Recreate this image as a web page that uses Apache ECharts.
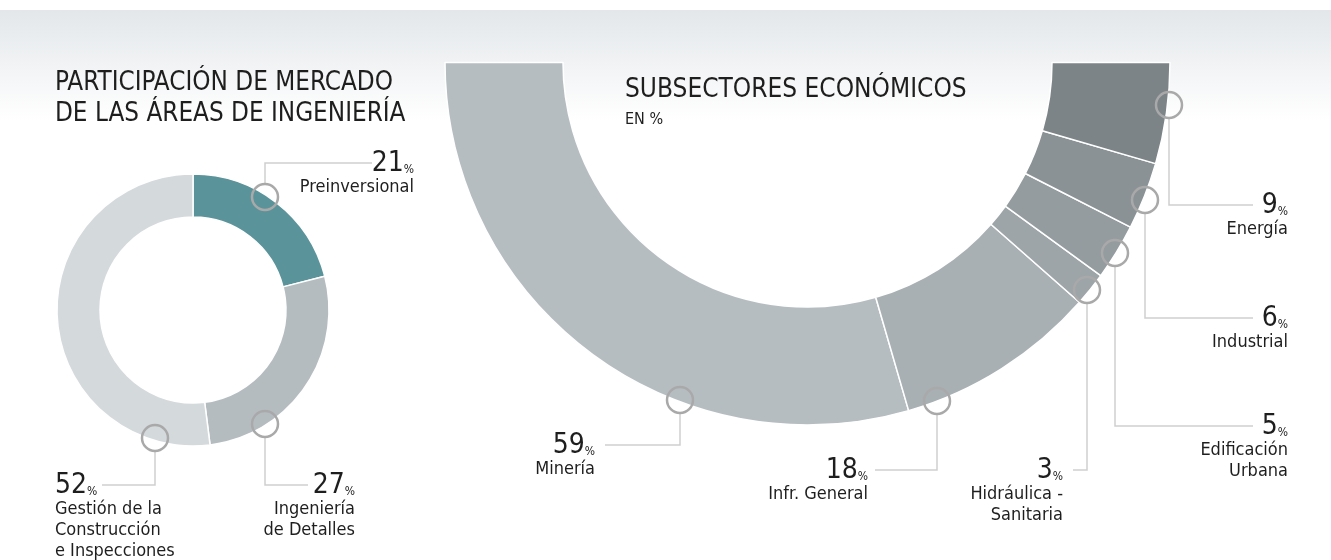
<!DOCTYPE html>
<html><head><meta charset="utf-8">
<script src="https://cdn.jsdelivr.net/npm/echarts@6/dist/echarts.min.js"></script>
<style>html,body{margin:0;padding:0;background:#fff}#c{width:1331px;height:560px}</style>
</head><body><div id="c"></div>
<script>
// ---- data ----
const areaNames = ['Preinversional', 'Ingeniería de Detalles', 'Gestión de la Construcción e Inspecciones'];
const areaValues = [21, 27, 52];
const areaLabelLines = [['Preinversional'], ['Ingeniería', 'de Detalles'], ['Gestión de la', 'Construcción', 'e Inspecciones']];
const sectorNames = ['Minería', 'Infr. General', 'Hidráulica - Sanitaria', 'Edificación Urbana', 'Industrial', 'Energía'];
const sectorValues = [59, 18, 3, 5, 6, 9];
const sectorLabelLines = [['Minería'], ['Infr. General'], ['Hidráulica -', 'Sanitaria'], ['Edificación', 'Urbana'], ['Industrial'], ['Energía']];
const title1 = ['PARTICIPACIÓN DE MERCADO', 'DE LAS ÁREAS DE INGENIERÍA'];
const title2 = 'SUBSECTORES ECONÓMICOS';
const subtitle2 = 'EN %';

// ---- styles ----
const FONT = '"Liberation Sans Narrow", "DejaVu Sans Condensed", sans-serif';
const areaColors = ['#5b939b', '#b5bcc0', '#d4d9dc'];
const sectorColors = ['#b6bdc1', '#a8b0b3', '#9da5a8', '#949c9f', '#8a9295', '#7c8487'];
const TXT = '#1e1e1e';

// callout layout: circle (cx,cy), elbow y, line end x, text x, align
const areaCallouts = [
  {cx: 265, cy: 197, ey: 163, ex: 372, tx: 414, align: 'right'},
  {cx: 265, cy: 424, ey: 485, ex: 308, tx: 355, align: 'right'},
  {cx: 155, cy: 438, ey: 485, ex: 102, tx: 55, align: 'left'}
];
const sectorCallouts = [
  {cx: 680, cy: 400, ey: 445, ex: 605, tx: 595, align: 'right'},
  {cx: 937, cy: 401, ey: 470, ex: 875, tx: 868, align: 'right'},
  {cx: 1087, cy: 290, ey: 470, ex: 1073, tx: 1063, align: 'right'},
  {cx: 1115, cy: 253, ey: 426, ex: 1253, tx: 1288, align: 'right'},
  {cx: 1145, cy: 200, ey: 318, ex: 1253, tx: 1288, align: 'right'},
  {cx: 1169, cy: 105, ey: 205, ex: 1253, tx: 1288, align: 'right'}
];

function callouts(list, values, lines) {
  const els = [];
  list.forEach((c, i) => {
    const r = 13;
    const startY = c.ey < c.cy ? c.cy - r : c.cy + r;
    els.push({type: 'polyline', z: 100, shape: {points: [[c.cx, startY], [c.cx, c.ey], [c.ex, c.ey]]},
      style: {stroke: '#cfcfcf', lineWidth: 1.5, fill: null}});
    els.push({type: 'circle', z: 101, shape: {cx: c.cx, cy: c.cy, r: r},
      style: {stroke: '#a9a9a9', lineWidth: 2.5, fill: 'rgba(0,0,0,0)'}});
    els.push({type: 'text', z: 102, x: c.tx, y: c.ey + 1, style: {
      text: '{n|' + values[i] + '}{p|%}', align: c.align, verticalAlign: 'middle',
      rich: {n: {fontSize: 28, fontFamily: FONT, fill: TXT}, p: {fontSize: 12, fontFamily: FONT, fill: TXT, verticalAlign: 'bottom', padding: [0, 0, 2, 0]}}
    }});
    els.push({type: 'text', z: 102, x: c.tx, y: c.ey + 14, style: {
      text: lines[i].join('\n'), align: c.align, verticalAlign: 'top', lineHeight: 21,
      fontSize: 18, fontFamily: FONT, fill: TXT
    }});
  });
  return els;
}

const chart = echarts.init(document.getElementById('c'), null, {renderer: 'canvas'});
chart.setOption({
  animation: false,
  backgroundColor: '#ffffff',
  graphic: [
    {type: 'rect', z: -10, shape: {x: 0, y: 10, width: 1331, height: 110},
      style: {fill: new echarts.graphic.LinearGradient(0, 0, 0, 1, [{offset: 0, color: '#e3e7ea'}, {offset: 1, color: '#ffffff'}])}},
    {type: 'text', z: 102, x: 55, y: 68, style: {text: title1.join('\n'), lineHeight: 31, fontSize: 25.8, fontFamily: FONT, fill: TXT, verticalAlign: 'top'}},
    {type: 'text', z: 102, x: 625, y: 77, style: {text: title2, fontSize: 26, fontFamily: FONT, fill: TXT, verticalAlign: 'top'}},
    {type: 'text', z: 102, x: 625, y: 112, style: {text: subtitle2, fontSize: 16, fontFamily: FONT, fill: TXT, verticalAlign: 'top'}}
  ].concat(callouts(areaCallouts, areaValues, areaLabelLines), callouts(sectorCallouts, sectorValues, sectorLabelLines)),
  series: [
    {
      type: 'pie', z: 2, center: [193, 310], radius: [93, 136], startAngle: 90, clockwise: true,
      label: {show: false}, labelLine: {show: false}, silent: true,
      itemStyle: {borderColor: '#ffffff', borderWidth: 1.5},
      data: areaNames.map((n, i) => ({name: n, value: areaValues[i], itemStyle: {color: areaColors[i]}}))
    },
    {
      type: 'pie', z: 2, center: [807.5, 62.5], radius: [244.5, 362.5], startAngle: 180, endAngle: 360, clockwise: false,
      label: {show: false}, labelLine: {show: false}, silent: true,
      itemStyle: {borderColor: '#ffffff', borderWidth: 1.5},
      data: sectorNames.map((n, i) => ({name: n, value: sectorValues[i], itemStyle: {color: sectorColors[i]}}))
    }
  ]
});
</script></body></html>
